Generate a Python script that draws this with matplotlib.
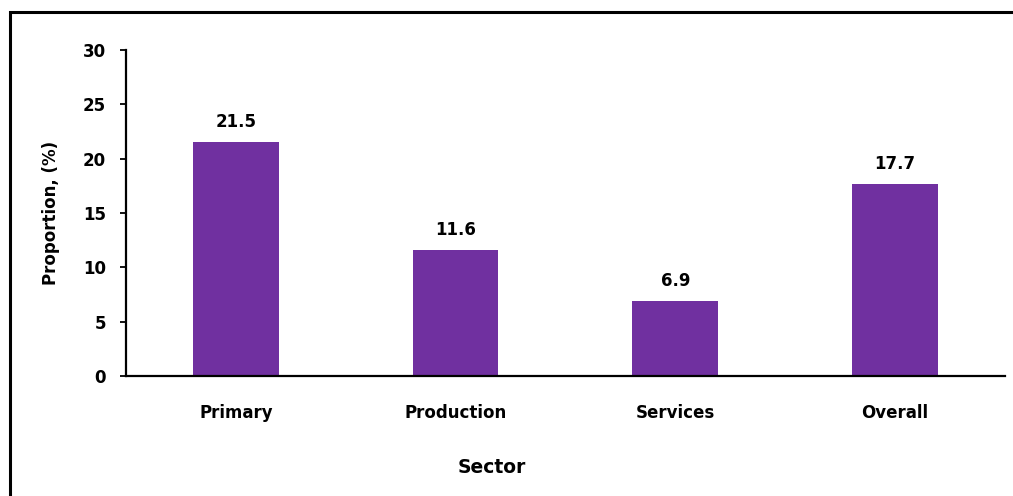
import matplotlib
matplotlib.use("Agg")
import matplotlib.pyplot as plt
from matplotlib.patches import Rectangle

# Data
sectors = ["Primary", "Production", "Services", "Overall"]
proportions = [21.5, 11.6, 6.9, 17.7]
y_ticks = [0, 5, 10, 15, 20, 25, 30]

BAR_COLOR = "#7030A0"

plt.rcParams["font.family"] = "DejaVu Sans"
plt.rcParams["font.weight"] = "bold"

fig = plt.figure(figsize=(10.13, 4.96), dpi=100, facecolor="white")
ax = fig.add_axes([0.1244, 0.2419, 0.8676, 0.6573])

x = list(range(len(sectors)))
bars = ax.bar(x, proportions, width=0.39, color=BAR_COLOR, zorder=2)

for b, v in zip(bars, proportions):
    ax.annotate(f"{v:.1f}", xy=(b.get_x() + b.get_width() / 2, v),
                xytext=(0, 8), textcoords="offset points",
                ha="center", va="bottom", fontsize=12, fontweight="bold")

ax.set_xlim(-0.5, len(sectors) - 0.5)
ax.set_ylim(0, 30)
ax.set_yticks(y_ticks)
ax.set_xticks(x)
ax.set_xticklabels(sectors)

ax.tick_params(axis="y", direction="out", length=4.5, width=1.3,
               labelsize=12, pad=10)
ax.tick_params(axis="x", length=0, labelsize=12, pad=20)
for lbl in ax.get_xticklabels() + ax.get_yticklabels():
    lbl.set_fontweight("bold")

for s in ["top", "right"]:
    ax.spines[s].set_visible(False)
for s in ["left", "bottom"]:
    ax.spines[s].set_linewidth(1.6)
    ax.spines[s].set_color("black")

ax.set_ylabel("Proportion, (%)", fontsize=12, fontweight="bold")
ax.yaxis.set_label_coords(-0.075, 0.5)
ax.set_xlabel("Sector", fontsize=13.5, fontweight="bold")
ax.xaxis.set_label_coords(0.416, -0.2515)

# Outer frame (runs off the right and bottom edges like the reference)
fig.patches.append(Rectangle((0.0099, -0.2), 1.3, 0.976 + 0.2,
                             transform=fig.transFigure, fill=False,
                             edgecolor="black", linewidth=2.2, clip_on=False))

fig.savefig("out.png", dpi=100, facecolor="white")
